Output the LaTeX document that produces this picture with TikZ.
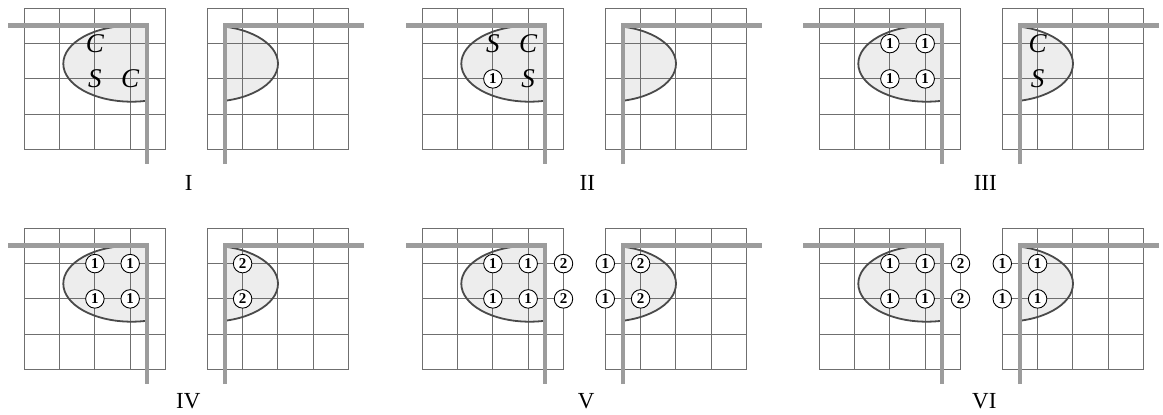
\documentclass[tikz,border=0pt]{standalone}
\usepackage{fontspec}
\setmainfont{Liberation Serif}
\definecolor{gridc}{HTML}{6F6F6F}
\definecolor{thickc}{HTML}{9C9C9C}
\definecolor{ellc}{HTML}{4A4A4A}
\definecolor{fillc}{HTML}{EDEDED}
\newcommand\cs{35.3}
\newcommand\basepanel{%
  \begin{scope}
    \clip (0,0) rectangle (122.7,141.2);
    \fill[fillc] (107.35,55.4) ellipse [x radius=68.35, y radius=38];
  \end{scope}
  \begin{scope}
    \clip (200.7,0) rectangle (330,141.2);
    \fill[fillc] (185.35,55.4) ellipse [x radius=68.35, y radius=38];
  \end{scope}
  \foreach \i in {0,...,4} {
    \draw[gridl] (\i*35.3,0) -- (\i*35.3,141.2);
    \draw[gridl] (0,\i*35.3) -- (141.2,\i*35.3);
    \draw[gridl] (183+\i*35.3,0) -- (183+\i*35.3,141.2);
    \draw[gridl] (183,\i*35.3) -- (324.2,\i*35.3);
  }
  \begin{scope}
    \clip (-20,0) rectangle (122.7,141.2);
    \draw[elll] (107.35,55.4) ellipse [x radius=68.35, y radius=38];
  \end{scope}
  \begin{scope}
    \clip (200.7,0) rectangle (330,141.2);
    \draw[elll] (185.35,55.4) ellipse [x radius=68.35, y radius=38];
  \end{scope}
  \draw[thickl] (-16.3,17.4) -- (122.7,17.4) -- (122.7,155.7);
  \draw[thickl] (200.7,155.7) -- (200.7,17.4) -- (340,17.4);
}
\begin{document}
\begin{tikzpicture}[x=1pt,y=-1pt,
  gridl/.style={draw=gridc, line width=1.15pt},
  thickl/.style={draw=thickc, line width=4.6pt, line join=miter},
  elll/.style={draw=ellc, line width=1.8pt},
  num/.style={circle, draw=black, line width=0.9pt, fill=white, minimum size=18.5pt, inner sep=0pt, font=\fontsize{15}{15}\selectfont\bfseries},
  let/.style={inner sep=0pt, font=\fontsize{27}{27}\selectfont\itshape},
  lab/.style={inner sep=0pt, font=\fontsize{23}{23}\selectfont}]
\useasboundingbox (0,0) rectangle (1163,415);
\begin{scope}
\clip (0,0) rectangle (1163,415);
% Panel I
\begin{scope}[shift={(24.3,8.3)}]
  \basepanel
  \node[let] (aC1) at (2*\cs,\cs) {C};
  \node[let] (aS1) at (2*\cs,2*\cs) {S};
  \node[let] (aC2) at (3*\cs,2*\cs) {C};
  \node[lab] (labI) at (164.5,175) {I};
\end{scope}
% Panel II
\begin{scope}[shift={(422.3,8.3)}]
  \basepanel
  \node[let] (bS1) at (2*\cs,\cs) {S};
  \node[let] (bC1) at (3*\cs,\cs) {C};
  \node[num] (bN1) at (2*\cs,2*\cs) {1};
  \node[let] (bS2) at (3*\cs,2*\cs) {S};
  \node[lab] (labII) at (165,175) {II};
\end{scope}
% Panel III
\begin{scope}[shift={(819.3,8.3)}]
  \basepanel
  \node[num] (cN1) at (2*\cs,\cs) {1};
  \node[num] (cN2) at (3*\cs,\cs) {1};
  \node[num] (cN3) at (2*\cs,2*\cs) {1};
  \node[num] (cN4) at (3*\cs,2*\cs) {1};
  \node[let] (cC1) at (183+\cs,\cs) {C};
  \node[let] (cS1) at (183+\cs,2*\cs) {S};
  \node[lab] (labIII) at (166,175) {III};
\end{scope}
% Panel IV
\begin{scope}[shift={(24.3,228.3)}]
  \basepanel
  \node[num] (dN1) at (2*\cs,\cs) {1};
  \node[num] (dN2) at (3*\cs,\cs) {1};
  \node[num] (dN3) at (2*\cs,2*\cs) {1};
  \node[num] (dN4) at (3*\cs,2*\cs) {1};
  \node[num] (dN5) at (183+\cs,\cs) {2};
  \node[num] (dN6) at (183+\cs,2*\cs) {2};
  \node[lab] (labIV) at (164,173) {IV};
\end{scope}
% Panel V
\begin{scope}[shift={(422.3,228.3)}]
  \basepanel
  \node[num] (eN1) at (2*\cs,\cs) {1};
  \node[num] (eN2) at (3*\cs,\cs) {1};
  \node[num] (eN3) at (2*\cs,2*\cs) {1};
  \node[num] (eN4) at (3*\cs,2*\cs) {1};
  \node[num] (eN5) at (4*\cs,\cs) {2};
  \node[num] (eN6) at (4*\cs,2*\cs) {2};
  \node[num] (eN7) at (183,\cs) {1};
  \node[num] (eN8) at (183,2*\cs) {1};
  \node[num] (eN9) at (183+\cs,\cs) {2};
  \node[num] (eN10) at (183+\cs,2*\cs) {2};
  \node[lab] (labV) at (164,173) {V};
\end{scope}
% Panel VI
\begin{scope}[shift={(819.3,228.3)}]
  \basepanel
  \node[num] (fN1) at (2*\cs,\cs) {1};
  \node[num] (fN2) at (3*\cs,\cs) {1};
  \node[num] (fN3) at (2*\cs,2*\cs) {1};
  \node[num] (fN4) at (3*\cs,2*\cs) {1};
  \node[num] (fN5) at (4*\cs,\cs) {2};
  \node[num] (fN6) at (4*\cs,2*\cs) {2};
  \node[num] (fN7) at (183,\cs) {1};
  \node[num] (fN8) at (183,2*\cs) {1};
  \node[num] (fN9) at (183+\cs,\cs) {1};
  \node[num] (fN10) at (183+\cs,2*\cs) {1};
  \node[lab] (labVI) at (165,173) {VI};
\end{scope}
\end{scope}
\end{tikzpicture}
\end{document}
